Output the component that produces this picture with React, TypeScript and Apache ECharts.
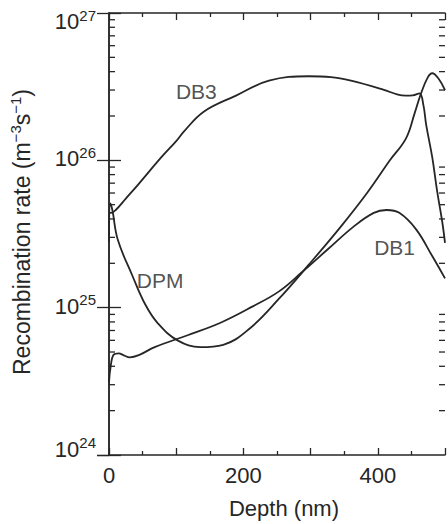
import React, { useEffect, useRef } from "react";
import * as echarts from "echarts";

// Depth (nm) and recombination rate (m^-3 s^-1)
const db3Depth = [0, 3, 10, 25, 44, 78, 100, 112, 141, 189, 238, 297, 330, 360, 408, 430, 442, 452, 462, 468, 472, 481, 488, 496, 500];
const db3Rate = [4.4e25, 4.4e25, 4.6e25, 5.5e25, 6.9e25, 1.05e26, 1.35e26, 1.58e26, 2.14e26, 2.75e26, 3.47e26, 3.72e26, 3.67e26, 3.47e26, 3.02e26, 2.79e26, 2.75e26, 2.76e26, 2.85e26, 2.35e26, 1.74e26, 1.05e26, 6.3e25, 3.8e25, 2.75e25];

const dpmDepth = [0, 2, 5, 13, 34.5, 54, 73, 102, 136, 170, 209, 253, 297, 345, 384, 418, 442, 455, 464, 474, 481, 491, 500];
const dpmRate = [2.8e25, 5.1e25, 4.6e25, 2.9e25, 1.66e25, 1.05e25, 7.8e24, 6.0e24, 5.4e24, 5.6e24, 7.2e24, 1.15e25, 1.95e25, 3.55e25, 6.0e25, 1.0e26, 1.41e26, 2.1e26, 2.82e26, 3.63e26, 3.9e26, 3.55e26, 3.0e26];

const db1Depth = [0, 2.5, 7, 14.5, 22, 31, 46, 68, 117, 166, 214, 253, 287, 326, 364, 394, 413, 432, 457, 481, 500];
const db1Rate = [3.1e24, 4.0e24, 4.8e24, 4.9e24, 4.75e24, 4.6e24, 4.8e24, 5.4e24, 6.5e24, 7.9e24, 1.02e25, 1.29e25, 1.74e25, 2.5e25, 3.55e25, 4.4e25, 4.6e25, 4.4e25, 3.4e25, 2.24e25, 1.58e25];

// Curve labels (placed in data coordinates)
const curveNames = ["DB3", "DPM", "DB1"];
const curveLabelDepth = [130, 76, 425];
const curveLabelRate = [2.95e26, 1.54e25, 2.56e25];

// Axis ticks
const xMin = 0;
const xMax = 500;
const xMajor = 100;
const xTickLabels = [0, 200, 400];
const yMin = 1e24;
const yMax = 1e27;
const yMinorTicks = [
  2e24, 3e24, 4e24, 5e24, 6e24, 7e24, 8e24, 9e24,
  2e25, 3e25, 4e25, 5e25, 6e25, 7e25, 8e25, 9e25,
  2e26, 3e26, 4e26, 5e26, 6e26, 7e26, 8e26, 9e26,
];

const FONT = "'Liberation Sans', Arial, Helvetica, sans-serif";
const INK = "#262626";

function zip(xs: number[], ys: number[]) {
  return xs.map((x, i) => [x, ys[i]]);
}

export default function App() {
  const ref = useRef<HTMLDivElement>(null);

  useEffect(() => {
    if (!ref.current) return;
    const chart = echarts.init(ref.current, undefined, { renderer: "svg" });

    const axisLine = { show: true, lineStyle: { color: INK, width: 1.5 } };

    const lineSeries = (name: string, xs: number[], ys: number[]) => ({
      name,
      type: "line",
      data: zip(xs, ys),
      smooth: 0.4,
      showSymbol: false,
      symbol: "none",
      lineStyle: { color: INK, width: 1.8 },
      xAxisIndex: 0,
      yAxisIndex: 0,
      z: 3,
    });

    const option: any = {
      animation: false,
      backgroundColor: "#ffffff",
      textStyle: { fontFamily: FONT },
      grid: { left: 103, right: 1, top: 13, bottom: 62, containLabel: false },
      xAxis: [
        {
          type: "value",
          position: "bottom",
          min: xMin,
          max: xMax,
          interval: xMajor,
          name: "Depth (nm)",
          nameLocation: "middle",
          nameGap: 42,
          nameTextStyle: { fontFamily: FONT, fontSize: 22, color: INK, padding: [0, 0, 0, 14] },
          axisLine,
          axisTick: { show: true, inside: true, length: 7, lineStyle: { color: INK, width: 1.3 } },
          minorTick: { show: true, splitNumber: 2, length: 4, lineStyle: { color: INK, width: 1.3 } },
          axisLabel: {
            show: true,
            margin: 9,
            fontFamily: FONT,
            fontSize: 22,
            color: INK,
            formatter: (v: number) => (xTickLabels.indexOf(v) >= 0 ? String(v) : ""),
          },
          splitLine: { show: false },
        },
        {
          type: "value",
          position: "top",
          min: xMin,
          max: xMax,
          interval: xMajor,
          axisLine,
          axisTick: { show: true, inside: true, length: 7, lineStyle: { color: INK, width: 1.3 } },
          minorTick: { show: true, splitNumber: 2, length: 4, lineStyle: { color: INK, width: 1.3 } },
          axisLabel: { show: false },
          splitLine: { show: false },
        },
      ],
      yAxis: [
        {
          type: "log",
          logBase: 10,
          position: "left",
          min: yMin,
          max: yMax,
          name: "{t|Recombination rate (m}{s|−3}{t|s}{s|−1}{t|)}",
          nameLocation: "middle",
          nameRotate: 90,
          nameGap: 76,
          nameTextStyle: {
            fontFamily: FONT,
            color: INK,
            padding: [0, 0, 0, 4],
            rich: {
              t: { fontFamily: FONT, fontSize: 23, color: INK, padding: [3, 0, 0, 0] },
              s: { fontFamily: FONT, fontSize: 15, color: INK, verticalAlign: "top", padding: [1, 0, 0, 0] },
            },
          },
          axisLine,
          axisTick: { show: true, inside: true, length: 12, lineStyle: { color: INK, width: 1.3 } },
          axisLabel: {
            show: true,
            margin: 13,
            fontFamily: FONT,
            color: INK,
            formatter: (v: number) => {
              const e = Math.round(Math.log10(v));
              if (e === 27) return "{a27|10}{b27|" + e + "}";
              if (e === 24) return "{a24|10}{b24|" + e + "}";
              return "{a|10}{b|" + e + "}";
            },
            rich: {
              a: { fontFamily: FONT, fontSize: 22, color: INK, padding: [3, 0, 6, 0] },
              b: { fontFamily: FONT, fontSize: 15, color: INK, verticalAlign: "top" },
              a27: { fontFamily: FONT, fontSize: 22, color: INK, padding: [17, 0, 0, 0] },
              b27: { fontFamily: FONT, fontSize: 15, color: INK, verticalAlign: "top", padding: [14, 0, 0, 0] },
              a24: { fontFamily: FONT, fontSize: 22, color: INK, padding: [3, 0, 15, 0] },
              b24: { fontFamily: FONT, fontSize: 15, color: INK, verticalAlign: "top" },
            },
          },
          splitLine: { show: false },
          minorTick: { show: false },
        },
        {
          type: "log",
          logBase: 10,
          position: "right",
          min: yMin,
          max: yMax,
          axisLine,
          axisTick: { show: true, inside: true, length: 12, lineStyle: { color: INK, width: 1.3 } },
          axisLabel: { show: false },
          splitLine: { show: false },
          minorTick: { show: false },
        },
      ],
      series: [
        lineSeries("DB3", db3Depth, db3Rate),
        lineSeries("DPM", dpmDepth, dpmRate),
        lineSeries("DB1", db1Depth, db1Rate),
        {
          name: "labels",
          type: "scatter",
          xAxisIndex: 0,
          yAxisIndex: 0,
          symbolSize: 0,
          data: curveNames.map((n, i) => ({ name: n, value: [curveLabelDepth[i], curveLabelRate[i]] })),
          label: {
            show: true,
            position: "inside",
            formatter: (p: any) => p.name,
            fontFamily: FONT,
            fontSize: 21,
            color: INK,
          },
          z: 4,
          silent: true,
        },
        {
          name: "minorTicks",
          type: "custom",
          xAxisIndex: 0,
          yAxisIndex: 0,
          silent: true,
          data: yMinorTicks.map((v) => [xMin, v]),
          renderItem: (_params: any, api: any) => {
            const v = api.value(1);
            const pl = api.coord([xMin, v]);
            const pr = api.coord([xMax, v]);
            const st = { stroke: INK, lineWidth: 1.3 };
            return {
              type: "group",
              children: [
                { type: "line", shape: { x1: pl[0], y1: pl[1], x2: pl[0] + 6, y2: pl[1] }, style: st },
                { type: "line", shape: { x1: pr[0], y1: pr[1], x2: pr[0] - 6, y2: pr[1] }, style: st },
              ],
            };
          },
          z: 5,
        },
      ],
    };

    chart.setOption(option);
    return () => {
      chart.dispose();
    };
  }, []);

  return (
    <div
      ref={ref}
      style={{ position: "fixed", left: 0, top: 0, width: 448, height: 524, background: "#fff" }}
    />
  );
}
